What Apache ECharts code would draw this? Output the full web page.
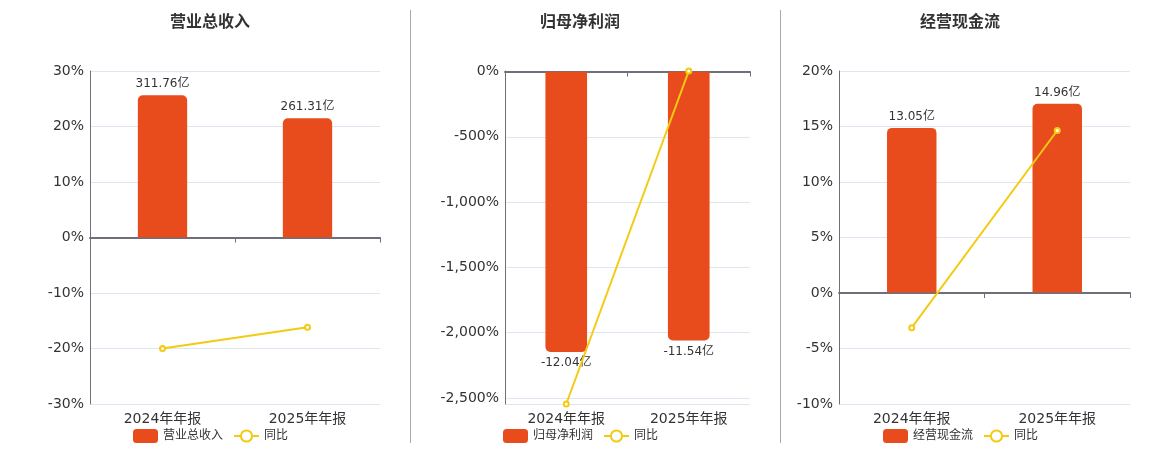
<!DOCTYPE html>
<html>
<head>
<meta charset="utf-8">
<script src="https://cdn.jsdelivr.net/npm/echarts@6/dist/echarts.min.js"></script>
<style>html,body{margin:0;padding:0;background:#fff;}#c{width:1160px;height:450px;}</style>
</head>
<body>
<div id="c"></div>
<script>
var categories = ['2024年年报', '2025年年报'];
var panelTitles = ['营业总收入', '归母净利润', '经营现金流'];
var revenue = [311.76, 261.31];
var revenueYoy = [-20.0, -16.18];
var profit = [-12.04, -11.54];
var profitYoy = [-2546, 4.15];
var cashflow = [13.05, 14.96];
var cashflowYoy = [-3.12, 14.64];
var yoyName = '同比';

var barColor = '#E84C1C';
var lineColor = '#F3CB12';
var textColor = '#333';
var FONT = 'DejaVu Sans, Noto Sans CJK SC, sans-serif';

var panels = [
  {title: panelTitles[0], bars: revenue, yoy: revenueYoy, left: 90, width: 290, center: 210,
   pct: {min: -30, max: 30, interval: 10}, bar: {min: -364.7, max: 364.7}, neg: false},
  {title: panelTitles[1], bars: profit, yoy: profitYoy, left: 505, width: 245, center: 580,
   pct: {min: 'dataMin', max: 'dataMax'}, bar: {min: -14.27, max: 0.034}, neg: true},
  {title: panelTitles[2], bars: cashflow, yoy: cashflowYoy, left: 839, width: 291, center: 960,
   pct: {min: -10, max: 20, interval: 5}, bar: {min: -8.83, max: 17.56}, neg: false}
];

var option = {
  animation: false,
  backgroundColor: '#fff',
  textStyle: {fontFamily: FONT},
  title: [], legend: [], grid: [], xAxis: [], yAxis: [], series: [],
  graphic: [
    {type: 'line', shape: {x1: 410.5, y1: 10, x2: 410.5, y2: 443}, style: {stroke: '#aaa', lineWidth: 1}},
    {type: 'line', shape: {x1: 780.5, y1: 10, x2: 780.5, y2: 443}, style: {stroke: '#aaa', lineWidth: 1}}
  ]
};

panels.forEach(function (p, i) {
  option.title.push({
    text: p.title, left: p.center, top: 15, textAlign: 'center', padding: 0,
    textStyle: {fontSize: 16, fontWeight: 'bold', color: textColor, fontFamily: FONT}
  });
  option.legend.push({
    data: [p.title, yoyName], left: p.center - 77, top: 429, padding: 0,
    itemWidth: 25, itemHeight: 14, itemGap: 10,
    textStyle: {fontSize: 12, color: textColor, fontFamily: FONT}
  });
  option.grid.push({left: p.left, width: p.width, top: 71, height: 333});
  option.xAxis.push({
    type: 'category', data: categories, gridIndex: i, position: 'bottom',
    axisLine: {onZero: true, lineStyle: {color: '#6E7079', width: 2}},
    axisTick: {show: true, length: 5, lineStyle: {color: '#6E7079'}},
    axisLabel: {show: false}
  });
  option.xAxis.push({
    type: 'category', data: categories, gridIndex: i, position: 'bottom',
    axisLine: {show: false, onZero: false}, axisTick: {show: false},
    axisLabel: {fontSize: 14, color: textColor, margin: 8, fontFamily: FONT}
  });
  var pctAxis = {
    type: 'value', gridIndex: i, min: p.pct.min, max: p.pct.max,
    axisLine: {show: true, lineStyle: {color: '#6E7079', width: 1}},
    axisTick: {show: false},
    splitLine: {lineStyle: {color: '#E0E6F1'}},
    axisLabel: {
      fontSize: 14, color: textColor, margin: 6, fontFamily: FONT,
      formatter: (function (neg) {
        return function (v) {
          if (neg && Math.abs(v % 500) > 1e-6) return '';
          return echarts.format.addCommas(Math.round(v)) + '%';
        };
      })(p.neg)
    }
  };
  if (p.pct.interval) pctAxis.interval = p.pct.interval;
  option.yAxis.push(pctAxis);
  option.yAxis.push({
    type: 'value', gridIndex: i, min: p.bar.min, max: p.bar.max, show: false,
    splitLine: {show: false}
  });
  option.series.push({
    name: p.title, type: 'bar', xAxisIndex: i * 2, yAxisIndex: i * 2 + 1,
    data: p.bars, barWidth: '34%',
    itemStyle: {color: barColor, borderRadius: p.neg ? [0, 0, 5, 5] : [5, 5, 0, 0]},
    label: {
      show: true, position: p.neg ? 'bottom' : 'top', distance: 5,
      fontSize: 12, color: textColor, fontFamily: FONT,
      formatter: function (o) { return o.value + '亿'; }
    }
  });
  option.series.push({
    name: yoyName, type: 'line', xAxisIndex: i * 2, yAxisIndex: i * 2,
    data: p.yoy, symbol: 'emptyCircle', symbolSize: 5,
    lineStyle: {color: lineColor, width: 2},
    itemStyle: {color: lineColor, borderWidth: 1.5},
    z: 5
  });
});

var chart = echarts.init(document.getElementById('c'));
chart.setOption(option);
</script>
</body>
</html>
